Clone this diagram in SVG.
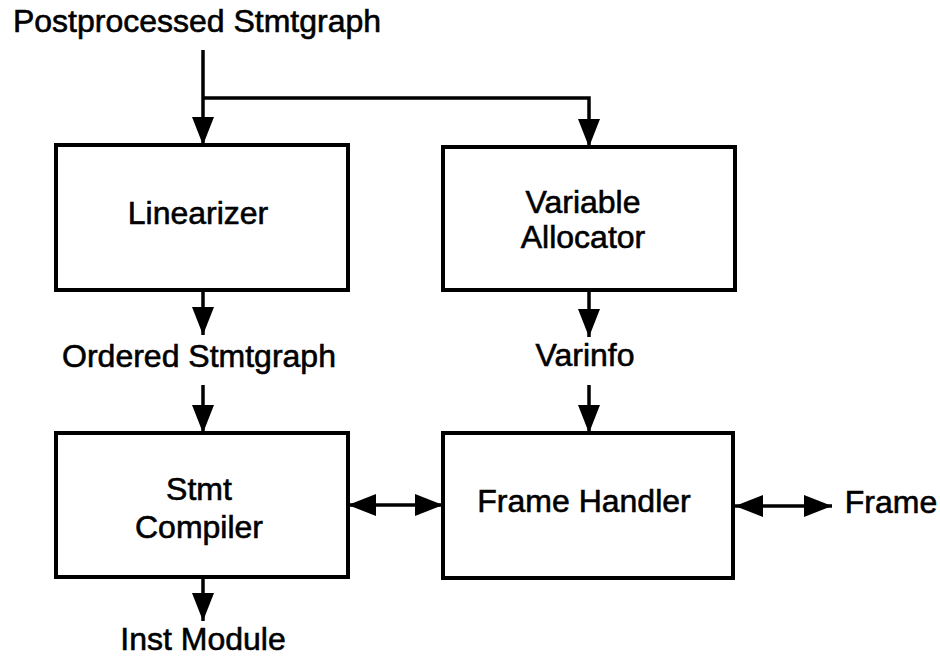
<svg xmlns="http://www.w3.org/2000/svg" width="940" height="658" viewBox="0 0 940 658">
<style>
  .box { fill: #fff; stroke: #000; stroke-width: 4; }
  .t { font-family: "Liberation Sans", Arial, Helvetica, sans-serif; font-size: 32px; fill: #000; stroke: #000; stroke-width: 0.6; text-anchor: middle; }
  .c { fill: none; stroke: #000; stroke-width: 3.5; }
</style>
<defs>
  <marker id="ah" markerUnits="userSpaceOnUse" markerWidth="28" markerHeight="22" refX="28" refY="11" orient="auto-start-reverse">
    <path d="M0,0 L28,11 L0,22 Z" fill="#000"/>
  </marker>
</defs>
<rect width="940" height="658" fill="#fff"/>

<g id="connectors">
  <path class="c" d="M203,50 L203,145" marker-end="url(#ah)"/>
  <path class="c" d="M203,98 L589,98 L589,147" marker-end="url(#ah)"/>
  <path class="c" d="M203,290 L203,335" marker-end="url(#ah)"/>
  <path class="c" d="M203,385 L203,433" marker-end="url(#ah)"/>
  <path class="c" d="M203,577 L203,621" marker-end="url(#ah)"/>
  <path class="c" d="M589,290 L589,337" marker-end="url(#ah)"/>
  <path class="c" d="M589,385 L589,433" marker-end="url(#ah)"/>
  <path class="c" d="M348,505 L443,505" marker-start="url(#ah)" marker-end="url(#ah)"/>
  <path class="c" d="M735,506 L832,506" marker-start="url(#ah)" marker-end="url(#ah)"/>
</g>

<g id="label-postprocessed">
  <text class="t" x="197" y="32">Postprocessed Stmtgraph</text>
</g>

<g id="linearizer">
  <rect class="box" x="56" y="145" width="292" height="145"/>
  <text class="t" x="198" y="224">Linearizer</text>
</g>

<g id="variable-allocator">
  <rect class="box" x="443" y="147" width="292" height="143"/>
  <text class="t" x="583" y="213">Variable</text>
  <text class="t" x="583" y="248">Allocator</text>
</g>

<g id="label-ordered">
  <text class="t" x="199" y="367">Ordered Stmtgraph</text>
</g>

<g id="label-varinfo">
  <text class="t" x="585" y="366">Varinfo</text>
</g>

<g id="stmt-compiler">
  <rect class="box" x="56" y="433" width="292" height="144"/>
  <text class="t" x="199" y="500">Stmt</text>
  <text class="t" x="199" y="538">Compiler</text>
</g>

<g id="frame-handler">
  <rect class="box" x="443" y="433" width="290" height="145"/>
  <text class="t" x="584" y="512">Frame Handler</text>
</g>

<g id="label-frame">
  <text class="t" x="891" y="513">Frame</text>
</g>

<g id="label-inst">
  <text class="t" x="203" y="650">Inst Module</text>
</g>
</svg>
